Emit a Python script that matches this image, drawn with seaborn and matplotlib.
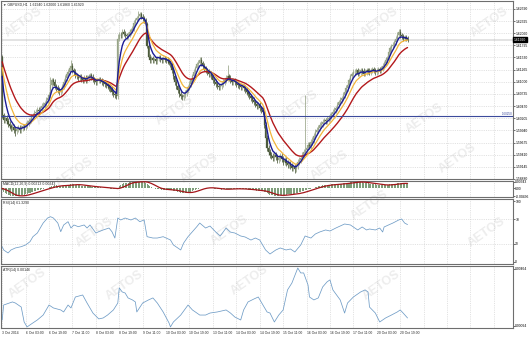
import numpy as np
import pandas as pd
import matplotlib
matplotlib.use("Agg")
import matplotlib.pyplot as plt
import seaborn as sns
from matplotlib.transforms import blended_transform_factory

# ---------------- data ----------------
time_labels = ["3 Oct 2014", "6 Oct 03:00", "6 Oct 19:00", "7 Oct 11:00", "8 Oct 03:00",
               "8 Oct 19:00", "9 Oct 11:00", "10 Oct 03:00", "10 Oct 19:00", "13 Oct 11:00",
               "14 Oct 03:00", "14 Oct 19:00", "15 Oct 11:00", "16 Oct 03:00", "16 Oct 19:00",
               "17 Oct 11:00", "20 Oct 03:00", "20 Oct 19:00"]

# hourly closes before the visible window (feed the moving averages only)
warmup_closes = [1.6162, 1.6158, 1.6160, 1.6155, 1.6152, 1.6157, 1.6161, 1.6159, 1.6154, 1.6150,
                 1.6153, 1.6156, 1.6160, 1.6158, 1.6155, 1.6151, 1.6149, 1.6152, 1.6156, 1.6154,
                 1.6157, 1.6155, 1.6152, 1.6154, 1.6156, 1.6153]

closes = [
    1.6027, 1.6016, 1.6021, 1.6014, 1.6008, 1.6003, 1.5999, 1.6001, 1.5995, 1.5992,
    1.5997, 1.5999, 1.5995, 1.5999, 1.6003, 1.6001, 1.6006, 1.6010, 1.6014, 1.6016,
    1.6023, 1.6027, 1.6032, 1.6034, 1.6038, 1.6036, 1.6042, 1.6047, 1.6049, 1.6053,
    1.6060, 1.6064, 1.6071, 1.6092, 1.6103, 1.6099, 1.6090, 1.6086, 1.6082, 1.6077,
    1.6082, 1.6090, 1.6099, 1.6108, 1.6116, 1.6121, 1.6129, 1.6134, 1.6125, 1.6121,
    1.6114, 1.6112, 1.6108, 1.6110, 1.6105, 1.6103, 1.6108, 1.6103, 1.6108, 1.6112,
    1.6114, 1.6110, 1.6105, 1.6101, 1.6099, 1.6103, 1.6105, 1.6103, 1.6099, 1.6097,
    1.6095, 1.6092, 1.6090, 1.6086, 1.6084, 1.6077, 1.6073, 1.6071, 1.6068, 1.6194,
    1.6203, 1.6201, 1.6208, 1.6205, 1.6201, 1.6199, 1.6203, 1.6208, 1.6212, 1.6216,
    1.6229, 1.6234, 1.6238, 1.6244, 1.6247, 1.6242, 1.6238, 1.6234, 1.6225, 1.6179,
    1.6155, 1.6147, 1.6151, 1.6147, 1.6149, 1.6145, 1.6151, 1.6153, 1.6149, 1.6147,
    1.6151, 1.6149, 1.6147, 1.6145, 1.6142, 1.6138, 1.6125, 1.6112, 1.6099, 1.6090,
    1.6082, 1.6073, 1.6068, 1.6066, 1.6071, 1.6075, 1.6082, 1.6088, 1.6095, 1.6103,
    1.6112, 1.6121, 1.6129, 1.6138, 1.6142, 1.6147, 1.6140, 1.6134, 1.6129, 1.6125,
    1.6121, 1.6116, 1.6118, 1.6112, 1.6103, 1.6099, 1.6095, 1.6090, 1.6088, 1.6090,
    1.6095, 1.6099, 1.6103, 1.6108, 1.6112, 1.6108, 1.6103, 1.6099, 1.6103, 1.6099,
    1.6095, 1.6092, 1.6090, 1.6088, 1.6090, 1.6086, 1.6082, 1.6077, 1.6073, 1.6068,
    1.6064, 1.6060, 1.6055, 1.6051, 1.6047, 1.6049, 1.6042, 1.6038, 1.6034, 1.6006,
    1.5977, 1.5956, 1.5947, 1.5940, 1.5938, 1.5934, 1.5940, 1.5936, 1.5929, 1.5934,
    1.5938, 1.5932, 1.5925, 1.5929, 1.5923, 1.5919, 1.5921, 1.5916, 1.5912, 1.5914,
    1.5910, 1.5916, 1.5925, 1.5929, 1.5934, 1.5940, 1.5947, 1.5951, 1.5956, 1.5962,
    1.5960, 1.5969, 1.5973, 1.5982, 1.5990, 1.5995, 1.5999, 1.6006, 1.6008, 1.6012,
    1.6016, 1.6014, 1.6019, 1.6021, 1.6025, 1.6029, 1.6034, 1.6038, 1.6042, 1.6049,
    1.6055, 1.6060, 1.6064, 1.6071, 1.6077, 1.6086, 1.6092, 1.6103, 1.6112, 1.6116,
    1.6121, 1.6121, 1.6125, 1.6118, 1.6121, 1.6125, 1.6123, 1.6118, 1.6121, 1.6125,
    1.6123, 1.6121, 1.6125, 1.6127, 1.6125, 1.6121, 1.6123, 1.6127, 1.6125, 1.6129,
    1.6134, 1.6140, 1.6147, 1.6151, 1.6164, 1.6173, 1.6177, 1.6181, 1.6186, 1.6194,
    1.6203, 1.6208, 1.6201, 1.6199, 1.6194, 1.6197, 1.6194, 1.6192,
]

hi_spike_bars = [33, 47, 79, 93, 135, 154, 207, 271]
hi_spike_vals = [1.6110, 1.6147, 1.6205, 1.6255, 1.6155, 1.6136, 1.6071, 1.6216]
lo_spike_bars = [9, 123, 200]
lo_spike_vals = [1.5982, 1.6060, 1.5901]

hline_level = 1.60250

price_ticks = [1.62590, 1.62325, 1.62060, 1.61795, 1.61530, 1.61265, 1.61000, 1.60735,
               1.60470, 1.60205, 1.59940, 1.59675, 1.59410, 1.59145, 1.58880]

rsi_bars = [0, 1, 4, 6, 9, 13, 16, 19, 21, 24, 26, 28, 31, 33, 35, 38, 40, 42, 45, 47,
            49, 52, 56, 58, 60, 64, 66, 69, 73, 75, 77, 79, 81, 84, 88, 91, 94, 97, 99, 103,
            106, 110, 115, 117, 122, 124, 127, 130, 133, 135, 139, 142, 146, 149, 153, 156, 159, 163, 166, 170,
            173, 176, 180, 183, 187, 190, 194, 197, 200, 204, 207, 211, 214, 217, 221, 224, 228, 231, 234, 238,
            241, 243, 246, 249, 251, 255, 258, 260, 261, 264, 267, 271, 273, 275, 277]
rsi_vals = [25.1, 19.7, 14.8, 19.7, 23.0, 25.1, 27.9, 33.3, 41.5, 47.5, 55.7, 63.9, 72.1, 74.3, 72.1, 63.9, 49.7, 60.7, 66.1, 55.7,
            60.7, 57.9, 60.7, 55.7, 60.7, 47.5, 49.7, 52.5, 55.7, 49.7, 39.3, 72.1, 68.9, 72.1, 68.9, 72.1, 66.1, 68.9, 41.5, 39.3,
            39.3, 41.5, 36.1, 27.9, 19.7, 31.1, 41.5, 49.7, 57.9, 63.9, 55.7, 59.0, 49.0, 42.6, 55.7, 49.0, 47.5, 42.6, 41.0, 36.0,
            39.3, 36.0, 19.7, 13.1, 19.7, 23.0, 19.7, 21.3, 16.4, 27.9, 42.6, 39.3, 45.9, 49.2, 52.5, 50.8, 55.7, 59.0, 62.3, 60.7,
            55.7, 52.5, 57.4, 52.5, 54.1, 52.5, 55.7, 49.2, 57.4, 60.7, 63.9, 68.9, 70.5, 63.9, 61.329]

atr_bars = [0, 1, 7, 9, 13, 15, 17, 21, 24, 28, 32, 35, 40, 42, 45, 47, 50, 55, 58, 62,
            66, 69, 72, 76, 79, 80, 82, 84, 86, 89, 91, 92, 96, 100, 103, 106, 110, 114, 115, 117,
            122, 127, 130, 132, 135, 139, 142, 147, 153, 156, 159, 163, 165, 168, 172, 175, 179, 181, 183, 186,
            189, 192, 195, 198, 202, 204, 206, 209, 210, 213, 216, 219, 222, 224, 226, 231, 234, 236, 240, 245,
            248, 250, 251, 255, 258, 262, 266, 270, 272, 274, 277]
atr_vals = [0.00133, 0.00230, 0.00250, 0.00243, 0.00217, 0.00120, 0.00088, 0.00114, 0.00133, 0.00165,
            0.00230, 0.00211, 0.00198, 0.00185, 0.00230, 0.00211, 0.00282, 0.00295, 0.00243, 0.00178,
            0.00140, 0.00146, 0.00165, 0.00198, 0.00243, 0.00341, 0.00315, 0.00308, 0.00276, 0.00263,
            0.00250, 0.00185, 0.00243, 0.00263, 0.00276, 0.00243, 0.00185, 0.00114, 0.00088, 0.00120,
            0.00165, 0.00230, 0.00198, 0.00185, 0.00165, 0.00165, 0.00178, 0.00185, 0.00198, 0.00178,
            0.00152, 0.00133, 0.00198, 0.00250, 0.00269, 0.00282, 0.00217, 0.00185, 0.00178, 0.00120,
            0.00165, 0.00198, 0.00328, 0.00373, 0.00470, 0.00438, 0.00438, 0.00360, 0.00282, 0.00263,
            0.00276, 0.00347, 0.00380, 0.00393, 0.00328, 0.00263, 0.00178, 0.00243, 0.00282, 0.00315,
            0.00328, 0.00315, 0.00217, 0.00178, 0.00120, 0.00146, 0.00165, 0.00185, 0.00198, 0.00178,
            0.00146]

# ---------------- derived ----------------
n = len(closes)
idx = np.arange(n)
opens = np.array([warmup_closes[-1]] + closes[:-1])
cl = np.array(closes)
highs = np.maximum(opens, cl) + 0.0006
lows = np.minimum(opens, cl) - 0.0006
for b, v in zip(hi_spike_bars, hi_spike_vals):
    highs[b] = max(highs[b], v)
for b, v in zip(lo_spike_bars, lo_spike_vals):
    lows[b] = min(lows[b], v)

full = pd.Series(warmup_closes + closes)
nw = len(warmup_closes)
ema_fast = full.ewm(span=5, adjust=False).mean().values[nw:]
ema_mid = full.ewm(span=10, adjust=False).mean().values[nw:]
ema_slow = full.ewm(span=21, adjust=False).mean().values[nw:]
macd_full = full.ewm(span=12, adjust=False).mean() - full.ewm(span=26, adjust=False).mean()
signal_full = macd_full.rolling(9, min_periods=1).mean()
macd = macd_full.values[nw:]
signal = signal_full.values[nw:]

# ---------------- figure ----------------
sns.set_style("white")
plt.rcParams['font.family'] = ['Liberation Sans', 'DejaVu Sans']
W, H = 530, 337
fig = plt.figure(figsize=(W / 100, H / 100), dpi=100)
fig.patch.set_facecolor("white")

RIGHT = 513.0


def rect(top, bottom):
    return [0.6 / W, (H - bottom) / H, (RIGHT - 0.6) / W, (bottom - top) / H]


ax_p = fig.add_axes(rect(0.6, 179))
ax_m = fig.add_axes(rect(181, 197))
ax_r = fig.add_axes(rect(199, 264))
ax_a = fig.add_axes(rect(266, 328))
axes = [ax_p, ax_m, ax_r, ax_a]

XL = (-1.09, (RIGHT - 1.6) / 1.465)
FS = 2.45
grid_kw = dict(color="#cbcbcb", lw=0.4, ls=(0, (2, 2)), zorder=0)
vgrid = np.arange(0, 351, 16)

for ax in axes:
    ax.set_facecolor("none")
    ax.set_xlim(*XL)
    for s in ax.spines.values():
        s.set_color("#6e6e6e")
        s.set_linewidth(0.8)
    for xv in vgrid:
        ax.axvline(xv, **grid_kw)
    ax.yaxis.tick_right()
    ax.tick_params(axis="y", labelsize=FS, length=1.2, width=0.4, pad=0.5, colors="#000000")
    ax.tick_params(axis="x", length=0, labelbottom=False)

# ---- main price panel ----
ax_p.set_ylim(1.58882, 1.62770)
for pv in price_ticks:
    ax_p.axhline(pv, **grid_kw)
ax_p.set_yticks(price_ticks)
ax_p.set_yticklabels([f"{v:.5f}" for v in price_ticks])

bull = cl >= opens
col = np.where(bull, "#98a488", "#4b5a3a")
ax_p.vlines(idx, lows, highs, colors=col, lw=0.55, zorder=2)
body_h = np.maximum(np.abs(cl - opens), 0.00006)
ax_p.bar(idx, body_h, bottom=np.minimum(cl, opens), width=0.8, color=col, edgecolor=col,
         lw=0.2, zorder=2)

sns.lineplot(x=idx, y=ema_slow, ax=ax_p, color="#b3191c", lw=1.0, zorder=3)
sns.lineplot(x=idx, y=ema_mid, ax=ax_p, color="#f2b53a", lw=0.9, zorder=4)
sns.lineplot(x=idx, y=ema_fast, ax=ax_p, color="#1c1c96", lw=1.0, zorder=5)

ax_p.axhline(hline_level, color="#3c4a9c", lw=0.8, zorder=3)
ax_p.text(XL[1] - 0.5, hline_level, f"{hline_level:.5f}", color="#3c4a9c", fontsize=2.2,
          ha="right", va="bottom", zorder=6)

last = closes[-1]
ax_p.axhline(last, color="#8c8c8c", lw=0.35, zorder=1)
tr = blended_transform_factory(ax_p.transAxes, ax_p.transData)
ax_p.text(1.002, last, f"{last:.5f}", transform=tr, color="white", fontsize=FS, ha="left",
          va="center", clip_on=False, zorder=10,
          bbox=dict(boxstyle="square,pad=0.2", fc="black", ec="black"))
ax_p.text(0.004, 0.992,
          f"\u25bc GBPUSD,H1  {opens[-1]:.5f} {highs[-1]:.5f} {lows[-1]:.5f} {last:.5f}",
          transform=ax_p.transAxes, fontsize=2.5, va="top", ha="left",
          family=["Liberation Sans", "DejaVu Sans"])

# ---- MACD panel ----
top = max(macd.max(), abs(macd.min()) * 7 / 9) * 1.08
ax_m.set_ylim(-top * 9 / 7, top)
ax_m.bar(idx, macd, width=0.7, color="#7e9e7a", edgecolor="none", zorder=2)
sns.lineplot(x=idx, y=signal, ax=ax_m, color="#a3151a", lw=0.9, zorder=3)
ax_m.set_yticks([macd.max(), 0.0, macd.min()])
ax_m.set_yticklabels([f"{macd.max():.5f}", "0.00", f"{macd.min():.5f}"])
ax_m.text(0.004, 0.96, f"MACD(12,26,9) {macd[-1]:.5f} {signal[-1]:.5f}",
          transform=ax_m.transAxes, fontsize=2.5, va="top", ha="left")

# ---- RSI panel ----
ax_r.set_ylim(-3.3, 103.3)
for lv in (70, 30):
    ax_r.axhline(lv, **grid_kw)
sns.lineplot(x=rsi_bars, y=rsi_vals, ax=ax_r, color="#6f9cc6", lw=0.55, zorder=3)
ax_r.set_yticks([100, 70, 30, 0])
ax_r.set_yticklabels(["100", "70", "30", "0"])
ax_r.text(0.004, 0.975, f"RSI(14) {rsi_vals[-1]:.4f}", transform=ax_r.transAxes,
          fontsize=2.5, va="top", ha="left")

# ---- ATR panel ----
ax_a.set_ylim(0.00081, 0.00483)
sns.lineplot(x=atr_bars, y=atr_vals, ax=ax_a, color="#6f9cc6", lw=0.55, zorder=3)
ax_a.set_yticks([0.00464, 0.00094])
ax_a.set_yticklabels(["0.00464", "0.00094"])
ax_a.text(0.004, 0.975, f"ATR(14) {atr_vals[-1]:.5f}", transform=ax_a.transAxes,
          fontsize=2.5, va="top", ha="left")
xt = np.arange(0, 16 * len(time_labels), 16)
ax_a.set_xticks(xt)
ax_a.set_xticklabels(time_labels)
ax_a.tick_params(axis="x", labelbottom=True, length=1.2, width=0.4, pad=0.6, labelsize=FS)
for lbl in ax_a.get_xticklabels():
    lbl.set_ha("left")

for ax in axes:
    ax.set_xlabel("")
    ax.set_ylabel("")

# ---- watermark ----
marks = [(24, 22), (115, 22), (250, 22), (380, 22), (490, 22),
         (55, 110), (175, 110), (300, 105), (425, 118),
         (75, 172), (200, 168), (330, 165), (458, 158),
         (95, 232), (230, 230), (370, 205), (487, 232),
         (28, 283), (125, 285), (250, 280), (382, 285)]
for (mx, my) in marks:
    fig.text(mx / W, 1 - my / H, "AETOS", fontsize=9, fontweight="bold", color="#ededed",
             rotation=35, ha="center", va="center", zorder=-5)

fig.savefig("out.png", dpi=100, facecolor="white")
